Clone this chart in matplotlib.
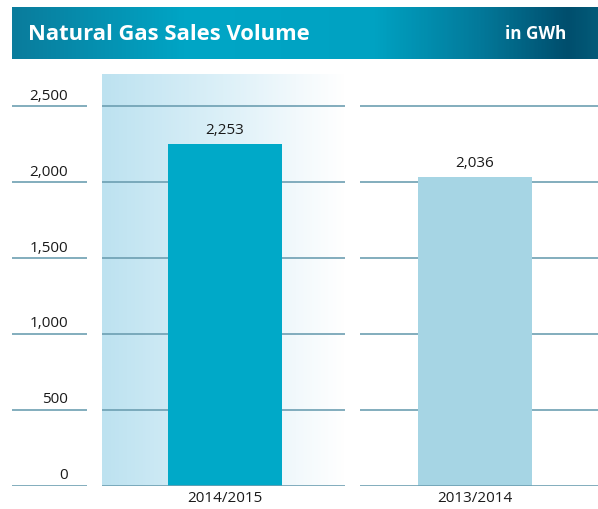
import numpy as np
import matplotlib
matplotlib.use("Agg")
import matplotlib.pyplot as plt
from matplotlib.colors import LinearSegmentedColormap

# data
CATEGORIES = ["2014/2015", "2013/2014"]
VALUES = [2253, 2036]
BAR_COLORS = ["#00a9c8", "#a6d5e4"]
YTICKS = [0, 500, 1000, 1500, 2000, 2500]
TITLE = "Natural Gas Sales Volume"
UNIT = "in GWh"

W, H = 598, 510
plt.rcParams["font.family"] = ["Open Sans", "DejaVu Sans"]
ink = "#1a1a1a"
grid = "#6d9fb2"

fig = plt.figure(figsize=(W / 100, H / 100), dpi=100)

# ---- header band with horizontal gradient ----------------------------
hx0, hx1, hy0, hy1 = 12, 598, 8, 60
hax = fig.add_axes([hx0 / W, 1 - hy1 / H, (hx1 - hx0) / W, (hy1 - hy0) / H])
hcmap = LinearSegmentedColormap.from_list("hdr", [
    (0.00, "#0a7c9c"),
    (0.30, "#00a6c6"),
    (0.62, "#00a2c2"),
    (0.80, "#03799a"),
    (0.95, "#004e6d"),
    (1.00, "#035a78"),
])
hax.imshow(np.linspace(0, 1, 400)[None, :], cmap=hcmap, aspect="auto",
           extent=[0, 1, 0, 1])
hax.set_axis_off()
hax.text(0.027, 0.5, TITLE, color="white", fontsize=15.8, fontweight="bold",
         va="center", ha="left", transform=hax.transAxes)
hax.text(0.945, 0.5, UNIT, color="white", fontsize=12.3, fontweight="bold",
         va="center", ha="right", transform=hax.transAxes)

# ---- chart area ------------------------------------------------------
ax_l, ax_r, ax_top, ax_bot = 12, 598, 75, 486.5
ax = fig.add_axes([ax_l / W, 1 - ax_bot / H, (ax_r - ax_l) / W, (ax_bot - ax_top) / H])
px_per_unit = 250.0
x0 = 0 - (225 - ax_l) / px_per_unit
x1 = 1 + (ax_r - 475) / px_per_unit
ymax = (ax_bot - ax_top) / 75.8 * 500
ax.set_xlim(x0, x1)
ax.set_ylim(0, ymax)
ax.set_axis_off()

def px(xp):
    return (xp - 225) / px_per_unit

# highlighted column background: light blue fading to white
bcmap = LinearSegmentedColormap.from_list("bg", [
    (0.00, "#bde2f0"),
    (0.10, "#c3e5f2"),
    (0.50, "#dcf0f8"),
    (0.80, "#f2f9fc"),
    (1.00, "#ffffff"),
])
ax.imshow(np.linspace(0, 1, 300)[None, :], cmap=bcmap, aspect="auto",
          extent=[px(102), px(345), 0, ymax], zorder=0)

xs = np.arange(len(CATEGORIES))
ax.bar(xs, VALUES, width=114 / px_per_unit, color=BAR_COLORS, zorder=3)

segments = [(px(12), px(87)), (px(102), px(345)), (px(360), px(598))]
for t in YTICKS:
    for a, b in segments:
        ax.plot([a, b], [t, t], color=grid, lw=1.2, zorder=2 if t else 4,
                solid_capstyle="butt")
    ax.annotate(f"{t:,}", (px(68), t), xytext=(0, 2.5), textcoords="offset points",
                ha="right", va="bottom", fontsize=11, color=ink)

for x, v in zip(xs, VALUES):
    ax.annotate(f"{v:,}", (x, v), xytext=(0, 5), textcoords="offset points",
                ha="center", va="bottom", fontsize=11, color=ink)
for x, c in zip(xs, CATEGORIES):
    ax.annotate(c, (x, 0), xytext=(0, -3), textcoords="offset points",
                ha="center", va="top", fontsize=11, color=ink)

fig.savefig("out.png", dpi=100)
